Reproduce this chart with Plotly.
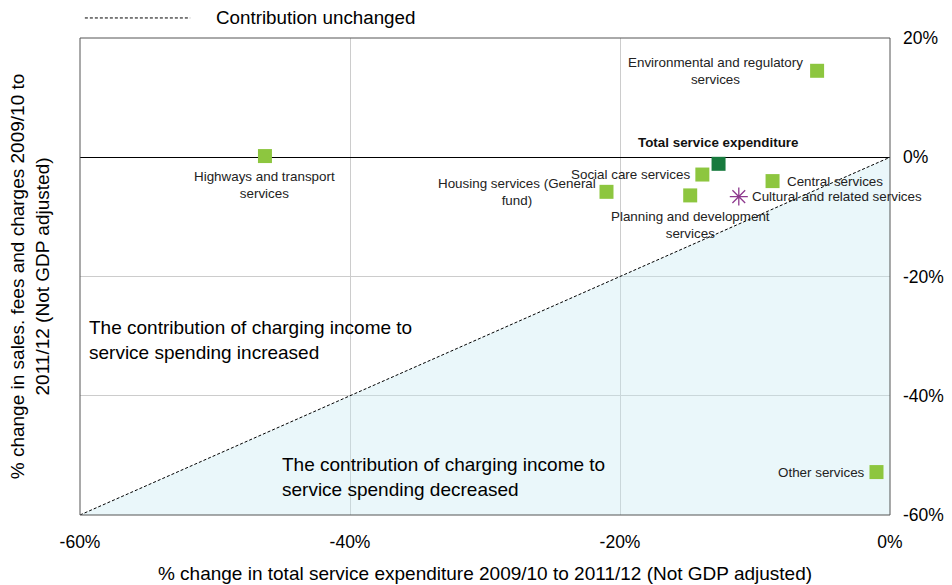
import plotly.graph_objects as go

# ---- data ----
services = ["Highways and transport services", "Environmental and regulatory services",
            "Social care services", "Housing services (General fund)",
            "Planning and development services", "Central services",
            "Other services"]
exp_change = [-46.3, -5.4, -13.9, -21.0, -14.8, -8.7, -1.0]
charge_change = [0.2, 14.5, -2.9, -5.8, -6.4, -4.0, -52.8]

total_name = "Total service expenditure"
total_exp = [-12.7]
total_charge = [-1.1]

cultural_name = "Cultural and related services"
cultural_exp = [-11.2]
cultural_charge = [-6.6]

diag_x = [-60, 0]
diag_y = [-60, 0]
shade_x = [-60, 0, 0, -60]
shade_y = [-60, 0, -60, -60]

x_ticks = [-60, -40, -20, 0]
x_tick_text = ["-60%", "-40%", "-20%", "0%"]
y_ticks = [-60, -40, -20, 0, 20]
y_tick_text = ["-60%", "-40%", "-20%", "0%", "20%"]

labels = {
    "Highways and transport services": ("Highways and transport<br>services", 0, -29, "center"),
    "Environmental and regulatory services": ("Environmental and regulatory<br>services", -12, 0, "right"),
    "Social care services": ("Social care services", -10, 0, "right"),
    "Housing services (General fund)": ("Housing services (General<br>fund)", -9, 0, "right"),
    "Planning and development services": ("Planning and development<br>services", 0, -30, "center"),
    "Central services": ("Central services", 12, 0, "left"),
    "Other services": ("Other services", -10, 0, "right"),
}

FONT = "Liberation Sans, Arial, sans-serif"
GREEN = "#8dc63f"
LBL = 13.4
BIG = 19

fig = go.Figure()

fig.add_trace(go.Scatter(x=shade_x, y=shade_y, fill="toself", mode="none",
                         fillcolor="rgba(200,234,242,0.38)", hoverinfo="skip", showlegend=False))
fig.add_trace(go.Scatter(x=diag_x, y=diag_y, mode="lines",
                         line=dict(color="black", width=1, dash="3px,2px"),
                         name="Contribution unchanged", showlegend=False))
fig.add_trace(go.Scatter(x=exp_change, y=charge_change, mode="markers",
                         marker=dict(symbol="square", size=14, color=GREEN),
                         text=services, showlegend=False))
fig.add_trace(go.Scatter(x=total_exp, y=total_charge, mode="markers",
                         marker=dict(symbol="square", size=14, color="#177a3d"),
                         text=[total_name], showlegend=False))
fig.add_trace(go.Scatter(x=cultural_exp, y=cultural_charge, mode="markers",
                         marker=dict(symbol="asterisk-open", size=15, color="#8e3a8e",
                                     line=dict(color="#8e3a8e", width=1.3)),
                         text=[cultural_name], showlegend=False))

annotations = []
for name, xv, yv in zip(services, exp_change, charge_change):
    txt, xs, ys, anchor = labels[name]
    annotations.append(dict(x=xv, y=yv, text=txt, showarrow=False, xshift=xs, yshift=ys,
                            xanchor=anchor, align="center",
                            font=dict(family=FONT, size=LBL, color="#222")))
annotations.append(dict(x=total_exp[0], y=total_charge[0], text="<b>" + total_name + "</b>",
                        showarrow=False, yshift=21, xanchor="center",
                        font=dict(family=FONT, size=LBL, color="#111")))
annotations.append(dict(x=cultural_exp[0], y=cultural_charge[0], text=cultural_name,
                        showarrow=False, xshift=11, xanchor="left",
                        font=dict(family=FONT, size=LBL, color="#222")))
annotations.append(dict(x=-59.5, y=-30.6, text="The contribution of charging income to<br>service spending increased",
                        showarrow=False, xanchor="left", align="left",
                        font=dict(family=FONT, size=BIG, color="black")))
annotations.append(dict(x=-45.2, y=-53.7, text="The contribution of charging income to<br>service spending decreased",
                        showarrow=False, xanchor="left", align="left",
                        font=dict(family=FONT, size=BIG, color="black")))
# y axis title (left side)
annotations.append(dict(xref="paper", yref="paper", x=-0.062, y=0.5,
                        text="% change in sales. fees and charges 2009/10 to<br>2011/12 (Not GDP adjusted)",
                        textangle=-90, showarrow=False, xanchor="center", yanchor="middle",
                        font=dict(family=FONT, size=BIG, color="black")))
# legend text
annotations.append(dict(xref="paper", yref="paper", x=0.165, y=1.042,
                        text="Contribution unchanged", showarrow=False, xanchor="left",
                        yanchor="middle",
                        font=dict(family=FONT, size=18.8, color="black")))

fig.update_layout(
    width=952, height=585,
    margin=dict(l=72, r=70, t=30, b=78),
    paper_bgcolor="white", plot_bgcolor="white",
    font=dict(family=FONT, size=17.5, color="black"),
    annotations=annotations,
    shapes=[
        dict(type="line", xref="paper", yref="paper", x0=0.006, x1=0.136, y0=1.042, y1=1.042,
             line=dict(color="black", width=1, dash="3px,2px")),
        dict(type="rect", xref="paper", yref="paper", x0=0, x1=1, y0=0, y1=1,
             line=dict(color="#555", width=1)),
    ],
    xaxis=dict(range=[-60, 0], tickvals=x_ticks, ticktext=x_tick_text,
               showgrid=True, gridcolor="#cccccc", zeroline=False,
               showline=False, ticks="", tickfont=dict(size=17.5), ticklabelstandoff=14,
               title=dict(text="% change in total service expenditure 2009/10 to 2011/12 (Not GDP adjusted)",
                          font=dict(size=BIG), standoff=16)),
    yaxis=dict(range=[-60, 20], tickvals=y_ticks, ticktext=y_tick_text, side="right",
               showgrid=True, gridcolor="#cccccc", zeroline=True, zerolinecolor="black",
               zerolinewidth=1.3, showline=False, ticks="", tickfont=dict(size=17.5),
               ticklabelstandoff=12),
)

fig.write_html("out.html")
